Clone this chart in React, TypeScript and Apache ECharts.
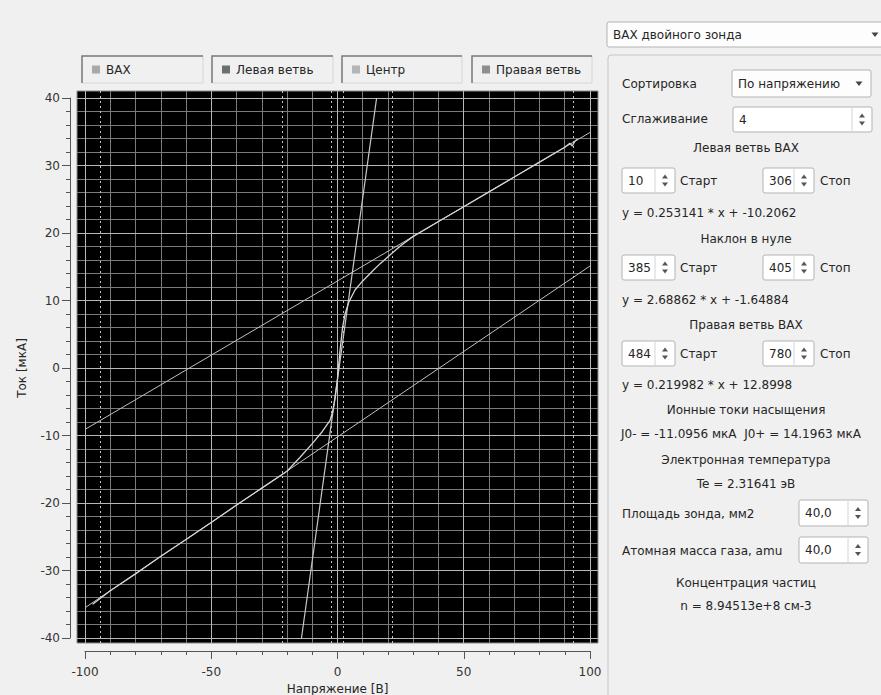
import React, { useEffect, useRef } from "react";
import * as echarts from "echarts";

// Measured double-probe I-V curve (voltage in V, current in µA)
const ivVoltage = [-97, -90, -80, -70, -60, -50, -40, -30, -20, -15, -10, -6, -3, -2, -1, 0, 1, 2, 3, 4.5, 7, 10, 14, 17, 21, 25, 30, 40, 50, 60, 70, 80, 90, 92, 93, 94, 95];
const ivCurrent = [-35.0, -33.0, -30.5, -27.9, -25.4, -22.9, -20.3, -17.8, -15.3, -13.3, -11.2, -9.4, -7.8, -6.6, -4.6, -1.6, 2.6, 6.0, 8.0, 9.8, 11.6, 12.9, 14.4, 15.5, 16.8, 18.1, 19.5, 21.7, 23.9, 26.1, 28.3, 30.5, 32.7, 33.3, 32.9, 33.6, 33.9];

// Linear fits shown in the side panel: I = k * U + b
const leftFit = { k: 0.253141, b: -10.2062 };
const centerFit = { k: 2.68862, b: -1.64884 };
const rightFit = { k: 0.219982, b: 12.8998 };

// Voltages of the Старт/Стоп points of the three fit windows
const windowMarkers = [-94.1, -21.9, -2.3, 2.3, 21.5, 93.4];

// Axis ticks
const voltageTicks = [-100, -50, 0, 50, 100];
const currentTicks = [-40, -30, -20, -10, 0, 10, 20, 30, 40];
const voltageMinorStep = 10;
const currentMinorStep = 2;

const legendNames = ["ВАХ", "Левая ветвь", "Центр", "Правая ветвь"];
const legendColors = ["#a9a9a9", "#6f6f6f", "#b5b5b5", "#8e8e8e"];

const FONT = '12px "DejaVu Sans"';
const TEXT = "#262626";

function stepsBetween(ticks: number[], step: number): number[] {
  const out: number[] = [];
  for (let v = ticks[0]; v <= ticks[ticks.length - 1] + 1e-9; v += step) out.push(Math.round(v * 100) / 100);
  return out;
}

function label(text: string, x: number, y: number, align: string = "left"): any {
  return {
    type: "text",
    x,
    y,
    silent: true,
    style: { text, fill: TEXT, font: FONT, align, verticalAlign: "middle" },
  };
}

function upDown(cx: number, cy: number): any[] {
  return [
    { type: "polygon", silent: true, shape: { points: [[cx - 3, cy - 2], [cx + 3, cy - 2], [cx, cy - 6]] }, style: { fill: "#555" } },
    { type: "polygon", silent: true, shape: { points: [[cx - 3, cy + 2], [cx + 3, cy + 2], [cx, cy + 6]] }, style: { fill: "#555" } },
  ];
}

function spinBox(x: number, y: number, w: number, h: number, value: string, arrowW: number = 20): any[] {
  return [
    { type: "rect", silent: true, shape: { x, y, width: w, height: h, r: 2 }, style: { fill: "#fff", stroke: "#b3b3b3", lineWidth: 1 } },
    { type: "line", silent: true, shape: { x1: x + w - arrowW, y1: y + 1, x2: x + w - arrowW, y2: y + h - 1 }, style: { stroke: "#d4d4d4", lineWidth: 1 } },
    ...upDown(x + w - arrowW / 2, y + h / 2),
    label(value, x + 6, y + h / 2),
  ];
}

function comboBox(x: number, y: number, w: number, h: number, value: string): any[] {
  const ax = x + w - 12;
  const ay = y + h / 2;
  return [
    { type: "rect", silent: true, shape: { x, y, width: w, height: h, r: 2 }, style: { fill: "#fdfdfd", stroke: "#b3b3b3", lineWidth: 1 } },
    { type: "polygon", silent: true, shape: { points: [[ax - 3.5, ay - 2], [ax + 3.5, ay - 2], [ax, ay + 2.5]] }, style: { fill: "#444" } },
    label(value, x + 6, ay),
  ];
}

function legendBox(x: number, w: number, name: string, color: string): any[] {
  const y = 56;
  const h = 27;
  return [
    { type: "rect", silent: true, shape: { x, y, width: w, height: h }, style: { fill: "#f0f0f0", stroke: "#d6d6d6", lineWidth: 1 } },
    { type: "polyline", silent: true, shape: { points: [[x, y + h], [x, y], [x + w, y]] }, style: { stroke: "#7c7c7c", lineWidth: 1.5 } },
    { type: "rect", silent: true, shape: { x: x + 10, y: y + h / 2 - 4, width: 8, height: 8 }, style: { fill: color } },
    label(name, x + 24, y + h / 2),
  ];
}

function buildPanel(): any[] {
  const els: any[] = [];
  // group box frame
  els.push({ type: "rect", silent: true, shape: { x: 608, y: 55, width: 290, height: 660, r: 3 }, style: { fill: "#f0f0f0", stroke: "#c6c6c6", lineWidth: 1 } });
  els.push(...comboBox(607, 22, 280, 25, "ВАХ двойного зонда"));

  els.push(label("Сортировка", 622, 84));
  els.push(...comboBox(732, 70, 139, 27, "По напряжению"));
  els.push(label("Сглаживание", 622, 119));
  els.push(...spinBox(733, 107, 139, 25, "4"));

  els.push(label("Левая ветвь ВАХ", 746, 148, "center"));
  els.push(...spinBox(622, 168, 53, 25, "10"));
  els.push(label("Старт", 680, 181));
  els.push(...spinBox(763, 168, 51, 25, "306"));
  els.push(label("Стоп", 820, 181));
  els.push(label(`y = ${leftFit.k} * x + ${leftFit.b}`, 622, 213));

  els.push(label("Наклон в нуле", 746, 239, "center"));
  els.push(...spinBox(622, 255, 53, 25, "385"));
  els.push(label("Старт", 680, 268));
  els.push(...spinBox(763, 255, 51, 25, "405"));
  els.push(label("Стоп", 820, 268));
  els.push(label(`y = ${centerFit.k} * x + ${centerFit.b}`, 622, 300));

  els.push(label("Правая ветвь ВАХ", 746, 325, "center"));
  els.push(...spinBox(622, 341, 53, 25, "484"));
  els.push(label("Старт", 680, 354));
  els.push(...spinBox(763, 341, 51, 25, "780"));
  els.push(label("Стоп", 820, 354));
  els.push(label(`y = ${rightFit.k} * x + ${rightFit.b}`, 622, 385));

  els.push(label("Ионные токи насыщения", 746, 410, "center"));
  els.push(label("J0- = -11.0956 мкА  J0+ = 14.1963 мкА", 741, 434, "center"));
  els.push(label("Электронная температура", 746, 460, "center"));
  els.push(label("Te = 2.31641 эВ", 746, 484, "center"));

  els.push(label("Площадь зонда, мм2", 622, 514));
  els.push(...spinBox(799, 500, 69, 26, "40,0"));
  els.push(label("Атомная масса газа, amu", 622, 551));
  els.push(...spinBox(799, 537, 69, 26, "40,0"));

  els.push(label("Концентрация частиц", 746, 583, "center"));
  els.push(label("n = 8.94513e+8 см-3", 746, 606, "center"));
  return els;
}

export default function App() {
  const ref = useRef<HTMLDivElement>(null);

  useEffect(() => {
    if (!ref.current) return;
    const chart = echarts.init(ref.current, null, { renderer: "svg" });

    const vGrid = stepsBetween(voltageTicks, voltageMinorStep);
    const hGrid = stepsBetween(currentTicks, currentMinorStep);
    const MAJOR = "#b8b8b8";
    const MINOR = "#7a7a7a";
    const gridMarks = [
      ...vGrid.filter((v) => v % 50 !== 0).map((v) => ({ xAxis: v, lineStyle: { color: MINOR } })),
      ...hGrid.filter((v) => v % 10 !== 0).map((v) => ({ yAxis: v, lineStyle: { color: MINOR } })),
      ...vGrid.filter((v) => v % 50 === 0).map((v) => ({ xAxis: v, lineStyle: { color: MAJOR } })),
      ...hGrid.filter((v) => v % 10 === 0).map((v) => ({ yAxis: v, lineStyle: { color: MAJOR } })),
    ];

    const ivData = ivVoltage.map((u, i) => [u, ivCurrent[i]]);
    const leftData = [-100, 100].map((u) => [u, leftFit.k * u + leftFit.b]);
    const rightData = [-100, 100].map((u) => [u, rightFit.k * u + rightFit.b]);
    const centerData = [-40, 40].map((i) => [(i - centerFit.b) / centerFit.k, i]);

    const curve = (name: string, data: number[][], color: string, width: number) => ({
      name,
      type: "line",
      xAxisIndex: 0,
      yAxisIndex: 0,
      data,
      showSymbol: false,
      symbol: "none",
      silent: true,
      z: 5,
      lineStyle: { color, width },
    });

    const axisCommon = {
      type: "value",
      gridIndex: 1,
      nameLocation: "middle",
      nameTextStyle: { color: TEXT, fontSize: 12, fontFamily: "DejaVu Sans" },
      axisLine: { show: true, onZero: false, lineStyle: { color: "#555", width: 1 } },
      axisTick: { show: true, length: 8, lineStyle: { color: "#555" } },
      minorTick: { show: true, splitNumber: 5, length: 4, lineStyle: { color: "#555" } },
      splitLine: { show: false },
    };

    chart.setOption({
      animation: false,
      backgroundColor: "#f0f0f0",
      textStyle: { fontFamily: "DejaVu Sans" },
      grid: [
        // plot canvas
        { left: 77, top: 91, width: 521, height: 552, outerBoundsMode: "none", containLabel: false, show: true, backgroundColor: "#000", borderColor: "#8c8c8c", borderWidth: 1 },
        // scale frame: -100..100 V, -40..40 µA
        { left: 85, top: 98, width: 505, height: 540, outerBoundsMode: "none", containLabel: false },
      ],
      xAxis: [
        { type: "value", gridIndex: 0, min: -103.17, max: 103.17, show: false },
        {
          ...axisCommon,
          min: voltageTicks[0],
          max: voltageTicks[voltageTicks.length - 1],
          interval: 50,
          position: "bottom",
          offset: 13,
          name: "Напряжение [В]",
          nameGap: 28,
          axisLabel: { color: "#333", fontSize: 12, margin: 15 },
        },
      ],
      yAxis: [
        { type: "value", gridIndex: 0, min: -40.74, max: 41.04, show: false },
        {
          ...axisCommon,
          min: currentTicks[0],
          max: currentTicks[currentTicks.length - 1],
          interval: 10,
          position: "left",
          offset: 15,
          name: "Ток [мкА]",
          nameGap: 42,
          axisLabel: { color: "#333", fontSize: 12, margin: 10 },
        },
      ],
      series: [
        {
          name: "grid",
          type: "line",
          xAxisIndex: 0,
          yAxisIndex: 0,
          data: [],
          silent: true,
          z: 1,
          markLine: {
            silent: true,
            symbol: ["none", "none"],
            label: { show: false },
            lineStyle: { type: "solid", width: 1 },
            data: gridMarks,
          },
        },
        {
          name: "markers",
          type: "line",
          xAxisIndex: 0,
          yAxisIndex: 0,
          data: [],
          silent: true,
          z: 2,
          markLine: {
            silent: true,
            symbol: ["none", "none"],
            label: { show: false },
            lineStyle: { type: [2, 3], width: 1, color: "#c4c4c4" },
            data: windowMarkers.map((v) => ({ xAxis: v })),
          },
        },
        curve("Левая ветвь", leftData, "#c0c0c0", 1),
        curve("Правая ветвь", rightData, "#c0c0c0", 1),
        curve("Центр", centerData, "#c8c8c8", 1.2),
        curve("ВАХ", ivData, "#d4d4d4", 1.3),
      ],
      graphic: {
        elements: [
          ...legendBox(82, 121, legendNames[0], legendColors[0]),
          ...legendBox(212, 121, legendNames[1], legendColors[1]),
          ...legendBox(342, 120, legendNames[2], legendColors[2]),
          ...legendBox(472, 120, legendNames[3], legendColors[3]),
          ...buildPanel(),
        ],
      },
    });

    return () => chart.dispose();
  }, []);

  return (
    <div
      ref={ref}
      style={{ position: "fixed", left: 0, top: 0, width: 881, height: 695, background: "#f0f0f0" }}
    />
  );
}
